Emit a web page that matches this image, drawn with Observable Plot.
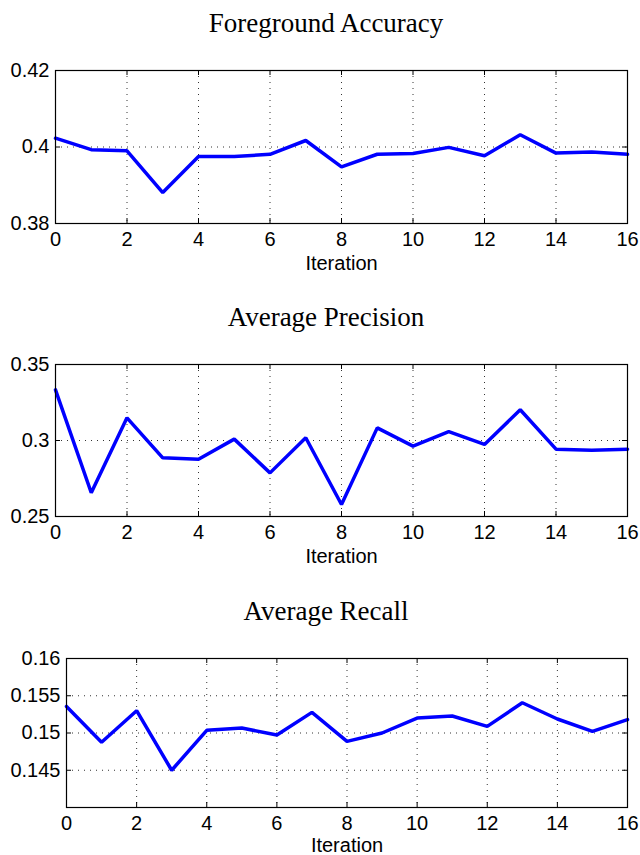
<!DOCTYPE html>
<html>
<head>
<meta charset="utf-8">
<script src="https://cdn.jsdelivr.net/npm/d3@7"></script>
<script src="https://cdn.jsdelivr.net/npm/@observablehq/plot@0.6"></script>
<style>
  html, body { margin: 0; padding: 0; background: white; }
  #root { position: relative; width: 640px; height: 855px; background: white; overflow: hidden; }
  .title { position: absolute; left: 0; width: 652px; text-align: center;
           font-family: "Liberation Serif", "Times New Roman", serif; font-size: 27px; line-height: 27px; color: black; }
  .panel { position: absolute; left: 0; }
</style>
</head>
<body>
<div id="root"></div>
<script>
// ---- data ----
const iterations = [0, 1, 2, 3, 4, 5, 6, 7, 8, 9, 10, 11, 12, 13, 14, 15, 16];
const foregroundAccuracy = [0.4023, 0.3993, 0.3990, 0.3881, 0.3975, 0.3975, 0.3981, 0.4017, 0.3948, 0.3981, 0.3983, 0.3999, 0.3977, 0.4032, 0.3984, 0.3987, 0.3981];
const averagePrecision = [0.3333, 0.2656, 0.3149, 0.2886, 0.2877, 0.3009, 0.2787, 0.3018, 0.2579, 0.3083, 0.2963, 0.3059, 0.2974, 0.3202, 0.2943, 0.2936, 0.2943];
const averageRecall = [0.15357, 0.14875, 0.15299, 0.1450, 0.15036, 0.15067, 0.14973, 0.15277, 0.14888, 0.1500, 0.15201, 0.15228, 0.15089, 0.15406, 0.15188, 0.15022, 0.15179];
const xTicks = [0, 2, 4, 6, 8, 10, 12, 14, 16];
const accuracyTicks = [0.38, 0.4, 0.42];
const precisionTicks = [0.25, 0.3, 0.35];
const recallTicks = [0.145, 0.15, 0.155, 0.16];
const titles = ["Foreground Accuracy", "Average Precision", "Average Recall"];
const xLabel = "Iteration";

// ---- layout ----
const panels = [
  {title: titles[0], values: foregroundAccuracy, domain: [0.38, 0.42], ticks: accuracyTicks, titleTop: 10, top: 60, frameH: 153, marginLeft: 55, labelOffset: 46},
  {title: titles[1], values: averagePrecision, domain: [0.25, 0.35], ticks: precisionTicks, titleTop: 304, top: 354, frameH: 152, marginLeft: 55, labelOffset: 46},
  {title: titles[2], values: averageRecall, domain: [0.14, 0.16], ticks: recallTicks, titleTop: 598, top: 648, frameH: 149, marginLeft: 66, labelOffset: 44}
];

const root = document.getElementById("root");
const W = 640, MT = 10, MB = 45, MR = 13, TICK = 5;

for (const p of panels) {
  const t = document.createElement("div");
  t.className = "title";
  t.style.top = p.titleTop + "px";
  t.textContent = p.title;
  root.appendChild(t);

  const rows = iterations.map((it, i) => ({iter: it, v: p.values[i]}));
  const frameW = W - p.marginLeft - MR;
  const gridStyle = {stroke: "#333", strokeOpacity: 1, strokeWidth: 1, strokeDasharray: "1,5"};

  const chart = Plot.plot({
    width: W,
    height: MT + p.frameH + MB,
    marginTop: MT,
    marginBottom: MB,
    marginLeft: p.marginLeft,
    marginRight: MR,
    style: {fontFamily: "'Liberation Sans', Arial, sans-serif", fontSize: "20px", color: "black", background: "white", overflow: "visible"},
    x: {domain: [0, 16]},
    y: {domain: p.domain},
    marks: [
      Plot.gridX(xTicks, gridStyle),
      Plot.gridY(p.ticks, gridStyle),
      Plot.tickX(xTicks, {x: d => d, insetTop: p.frameH - TICK, stroke: "black"}),
      Plot.tickX(xTicks, {x: d => d, insetBottom: p.frameH - TICK, stroke: "black"}),
      Plot.tickY(p.ticks, {y: d => d, insetRight: frameW - TICK, stroke: "black"}),
      Plot.tickY(p.ticks, {y: d => d, insetLeft: frameW - TICK, stroke: "black"}),
      Plot.line(rows, {x: "iter", y: "v", stroke: "#0000ff", strokeWidth: 3.5, strokeLinejoin: "miter"}),
      Plot.frame({stroke: "black", strokeWidth: 1.2}),
      Plot.axisX(xTicks, {tickSize: 0, tickPadding: 8, tickFormat: d => String(d), label: xLabel, labelAnchor: "center", labelOffset: p.labelOffset, labelArrow: "none"}),
      Plot.axisY(p.ticks, {tickSize: 0, tickPadding: 6, tickFormat: d => String(d), label: null})
    ]
  });
  chart.classList.add("panel");
  chart.style.top = p.top + "px";
  root.appendChild(chart);
}
</script>
</body>
</html>
